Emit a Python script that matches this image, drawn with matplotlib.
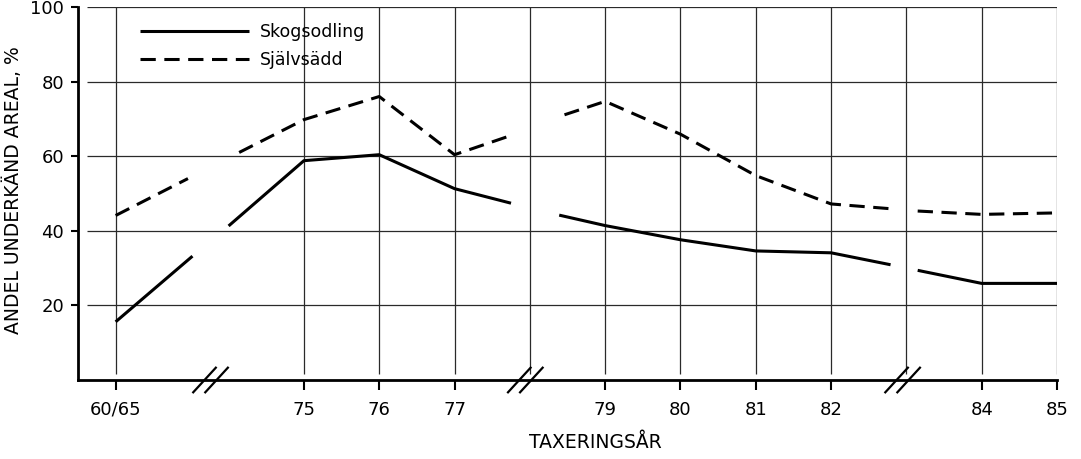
import numpy as np
import matplotlib
matplotlib.use("Agg")
import matplotlib.pyplot as plt
import matplotlib.transforms as mtransforms

plt.rcParams['font.family'] = ['DejaVu Sans']

nan = np.nan
# x positions: 72.5 stands for "60/65"; broken axis
skog_x = [72.5, 73.52, nan, 74.0, 75, 76, 77, 77.75, nan, 78.39, 79, 80, 81, 82, 82.79, nan, 83.15, 84, 85]
skog_y = [15.6, 33.2, nan, 41.3, 58.8, 60.4, 51.3, 47.4, nan, 44.2, 41.4, 37.6, 34.6, 34.1, 30.9, nan, 29.4, 25.9, 25.9]
sjalv_x = [72.5, 73.46, nan, 74.14, 75, 76, 77, 77.77, nan, 78.46, 79, 80, 81, 82, 82.8, nan, 83.15, 84, 85]
sjalv_y = [44.1, 54.0, nan, 61.0, 69.8, 76.0, 60.4, 65.7, nan, 71.1, 74.7, 65.9, 54.8, 47.2, 45.9, nan, 45.3, 44.4, 44.8]

tick_pos = [72.5, 75, 76, 77, 79, 80, 81, 82, 84, 85]
tick_labels = ['60/65', '75', '76', '77', '79', '80', '81', '82', '84', '85']
vgrid_pos = [72.5, 75, 76, 77, 78, 79, 80, 81, 82, 83, 84, 85]
break_pos = [73.76, 77.94, 82.95]
y_ticks = [20, 40, 60, 80, 100]

fig = plt.figure(figsize=(10.81, 4.59), dpi=100)
ax = fig.add_axes([78/1081, 1-380/459, (1057-78)/1081, (380-7)/459])
ax.set_xlim(72, 85)
ax.set_ylim(0, 100)

gc = '#2a2a2a'
ax.vlines(vgrid_pos, 1.5, 100, color=gc, lw=0.9, zorder=1)
ax.hlines(y_ticks, 72.12, 85, color=gc, lw=0.9, zorder=1)

ax.plot(skog_x, skog_y, color='black', lw=2.2, solid_capstyle='butt', label='Skogsodling', zorder=3)
ax.plot(sjalv_x, sjalv_y, color='black', lw=2.2, dashes=(5.0, 2.8), label='Självsädd', zorder=3)

for s in ['top', 'right']:
    ax.spines[s].set_visible(False)
ax.spines['left'].set_linewidth(2.0)
ax.spines['bottom'].set_linewidth(2.0)

ax.set_xticks(tick_pos)
ax.set_xticklabels(tick_labels)
ax.set_yticks(y_ticks)
ax.tick_params(axis='x', direction='out', length=7, width=1.5, pad=8, labelsize=13)
ax.tick_params(axis='y', direction='out', length=5, width=1.5, pad=5, labelsize=13)

# axis break marks
trans = mtransforms.blended_transform_factory(ax.transData, ax.transAxes)
for bx in break_pos:
    for off in (-0.08, 0.08):
        ax.plot([bx + off - 0.15, bx + off + 0.15], [-0.033, 0.033], color='black',
                lw=1.6, transform=trans, clip_on=False, zorder=4)

leg = ax.legend(loc='upper left', bbox_to_anchor=(0.063, 0.957), frameon=False,
                handlelength=6.3, handletextpad=0.65, labelspacing=0.55,
                borderpad=0, borderaxespad=0, fontsize=12.5)

fig.text(595/1081, 1-443/459, 'TAXERINGSÅR', ha='center', va='center', fontsize=13.5)
fig.text(13/1081, 1-190/459, 'ANDEL UNDERKÄND AREAL, %', ha='center', va='center',
         rotation=90, fontsize=13.5)

fig.savefig('out.png', dpi=100)
